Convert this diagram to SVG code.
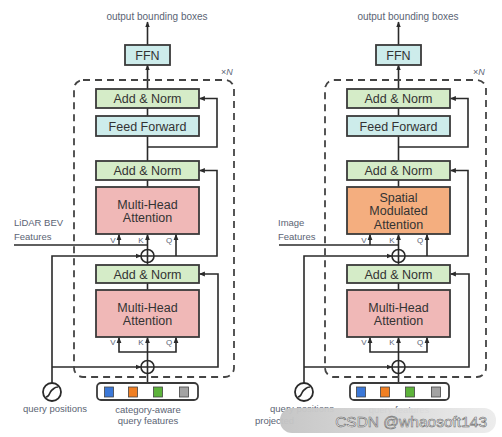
<svg xmlns="http://www.w3.org/2000/svg" width="502" height="437" viewBox="0 0 502 437">
<defs>
<style>
.box{stroke:#3a3a3a;stroke-width:1.8}
.an{fill:#d5ecc8}
.ff{fill:#cdeceb}
.mha{fill:#f0b8b7}
.sma{fill:#f4ae7f}
.t{font-family:"Liberation Sans",Arial,sans-serif;font-size:12.5px;fill:#333;text-anchor:middle}
.lbl{font-family:"Liberation Sans",Arial,sans-serif;font-size:9.5px;fill:#5b6474}
.mid{text-anchor:middle}
.vkq{font-family:"Liberation Sans",Arial,sans-serif;font-size:8px;fill:#5b6474;text-anchor:middle}
.ln{fill:none;stroke:#2a2a2a;stroke-width:1.6}
.arr{marker-end:url(#ah)}
.dash{fill:none;stroke:#444;stroke-width:1.8;stroke-dasharray:7 5}
.plus{fill:#fff;stroke:#2a2a2a;stroke-width:1.6}
.sq{stroke:#444;stroke-width:0.8}
</style>
<marker id="ah" viewBox="0 0 10 10" refX="9" refY="5" markerWidth="6" markerHeight="6" orient="auto" markerUnits="userSpaceOnUse">
<path d="M0,1 L10,5 L0,9 z" fill="#2a2a2a"/>
</marker>
<linearGradient id="wm" x1="0" x2="1" y1="0" y2="0">
<stop offset="0" stop-color="#c4c4c4"/>
<stop offset="1" stop-color="#ececec"/>
</linearGradient>
</defs>
<rect width="502" height="437" fill="#fff"/>

<!-- LEFT PANEL -->
<g id="left-panel">
<g id="L-connectors">
<path class="ln arr" d="M147.5,45 V22"/>
<path class="ln arr" d="M147.5,89 V65"/>
<path class="ln" d="M147.5,116 V108"/>
<path class="ln" d="M147.5,161 V136"/>
<path class="ln arr" d="M147.5,147 H217 V98.5 H199.5"/>
<path class="ln" d="M147.5,187 V180"/>
<path class="ln arr" d="M154,256 H217 V170.5 H199.5"/>
<path class="ln arr" d="M176,256 V234.5"/>
<path class="ln" d="M14,245 H147.5"/>
<path class="ln arr" d="M119,245 V234.5"/>
<path class="ln arr" d="M147.5,249.5 V234.5"/>
<path class="ln" d="M147.5,265 V262.5"/>
<path class="ln" d="M147.5,283 V290"/>
<path class="ln arr" d="M52,383 V256 H141"/>
<path class="ln arr" d="M52,367 H141"/>
<path class="ln arr" d="M154,367 H218 V274 H199.5"/>
<path class="ln" d="M147.5,383 V373.5"/>
<path class="ln arr" d="M147.5,360.5 V337.5"/>
<path class="ln arr" d="M147.5,352 H119 V337.5"/>
<path class="ln arr" d="M147.5,352 H176 V337.5"/>
</g>
<text class="lbl mid" x="157" y="19.5" style="font-size:10px">output bounding boxes</text>
<rect id="L-layer-repeat" class="dash" x="74" y="80" width="160" height="297" rx="9"/>
<text class="lbl" x="221" y="75" style="font-size:9px">×<tspan font-style="italic">N</tspan></text>
<g id="L-ffn"><rect class="box ff" x="125" y="45" width="45" height="20"/><text class="t" x="147.5" y="59.5">FFN</text></g>
<g id="L-addnorm3"><rect class="box an" x="96" y="89" width="103" height="19"/><text class="t" x="147.5" y="103">Add &amp; Norm</text></g>
<g id="L-feedforward"><rect class="box ff" x="96" y="116" width="103" height="20"/><text class="t" x="147.5" y="130.5">Feed Forward</text></g>
<g id="L-addnorm2"><rect class="box an" x="96" y="161" width="103" height="19"/><text class="t" x="147.5" y="175">Add &amp; Norm</text></g>
<g id="L-cross-attn"><rect class="box mha" x="96" y="187" width="103" height="47"/><text class="t" x="147.5" y="208.5">Multi-Head</text><text class="t" x="147.5" y="222">Attention</text>
<text class="vkq" x="113" y="243">V</text><text class="vkq" x="141" y="243">K</text><text class="vkq" x="169" y="243">Q</text></g>
<g id="L-lidar-label"><text class="lbl" x="14" y="226">LiDAR BEV</text><text class="lbl" x="14" y="240">Features</text></g>
<g id="L-plus-upper"><circle class="plus" cx="147.5" cy="256" r="6.5"/><path class="ln" d="M141,256 H154 M147.5,249.5 V262.5"/></g>
<g id="L-addnorm1"><rect class="box an" x="96" y="265" width="103" height="18"/><text class="t" x="147.5" y="278.5">Add &amp; Norm</text></g>
<g id="L-self-attn"><rect class="box mha" x="96" y="290" width="103" height="47"/><text class="t" x="147.5" y="311.5">Multi-Head</text><text class="t" x="147.5" y="325">Attention</text>
<text class="vkq" x="113" y="345">V</text><text class="vkq" x="141" y="345">K</text><text class="vkq" x="169" y="345">Q</text></g>
<g id="L-plus-lower"><circle class="plus" cx="147.5" cy="367" r="6.5"/><path class="ln" d="M141,367 H154 M147.5,360.5 V373.5"/></g>
<g id="L-query-positions"><circle cx="52" cy="392" r="9" fill="#fff" stroke="#2a2a2a" stroke-width="1.8"/><path d="M46,397 C50,397 49,392 52,390 C55,388 54,387 58,387" fill="none" stroke="#2a2a2a" stroke-width="1.6"/>
<text class="lbl mid" x="55" y="412">query positions</text></g>
<g id="L-query-features"><rect x="97" y="383" width="101" height="17" rx="4" fill="#fff" stroke="#3a3a3a" stroke-width="1.8"/>
<rect class="sq" x="104.5" y="387" width="9" height="10" fill="#3b78d8"/><rect class="sq" x="128.5" y="387" width="9" height="10" fill="#f07f23"/><rect class="sq" x="153.5" y="387" width="9" height="10" fill="#5db33b"/><rect class="sq" x="179.5" y="387" width="9" height="10" fill="#a3a3a3"/>
<text class="lbl mid" x="148" y="413">category-aware</text><text class="lbl mid" x="148" y="424">query features</text></g>
</g>

<!-- RIGHT PANEL -->
<g id="right-panel" transform="translate(251,0)">
<g id="R-connectors">
<path class="ln arr" d="M147.5,45 V22"/>
<path class="ln arr" d="M147.5,89 V65"/>
<path class="ln" d="M147.5,116 V108"/>
<path class="ln" d="M147.5,161 V136"/>
<path class="ln arr" d="M147.5,147 H217 V98.5 H199.5"/>
<path class="ln" d="M147.5,187 V180"/>
<path class="ln arr" d="M154,256 H217 V170.5 H199.5"/>
<path class="ln arr" d="M176,256 V234.5"/>
<path class="ln" d="M28,245 H147.5"/>
<path class="ln arr" d="M119,245 V234.5"/>
<path class="ln arr" d="M147.5,249.5 V234.5"/>
<path class="ln" d="M147.5,265 V262.5"/>
<path class="ln" d="M147.5,283 V290"/>
<path class="ln arr" d="M53,383 V256 H141"/>
<path class="ln arr" d="M53,367 H141"/>
<path class="ln arr" d="M154,367 H218 V274 H199.5"/>
<path class="ln" d="M147.5,383 V373.5"/>
<path class="ln arr" d="M147.5,360.5 V337.5"/>
<path class="ln arr" d="M147.5,352 H119 V337.5"/>
<path class="ln arr" d="M147.5,352 H176 V337.5"/>
</g>
<text class="lbl mid" x="157" y="19.5" style="font-size:10px">output bounding boxes</text>
<rect id="R-layer-repeat" class="dash" x="74" y="80" width="161" height="297" rx="9"/>
<text class="lbl" x="222" y="75" style="font-size:9px">×<tspan font-style="italic">N</tspan></text>
<g id="R-ffn"><rect class="box ff" x="125" y="45" width="45" height="20"/><text class="t" x="147.5" y="59.5">FFN</text></g>
<g id="R-addnorm3"><rect class="box an" x="96" y="89" width="103" height="19"/><text class="t" x="147.5" y="103">Add &amp; Norm</text></g>
<g id="R-feedforward"><rect class="box ff" x="96" y="116" width="103" height="20"/><text class="t" x="147.5" y="130.5">Feed Forward</text></g>
<g id="R-addnorm2"><rect class="box an" x="96" y="161" width="103" height="19"/><text class="t" x="147.5" y="175">Add &amp; Norm</text></g>
<g id="R-sma"><rect class="box sma" x="96" y="187" width="103" height="47"/><text class="t" x="147.5" y="201.5">Spatial</text><text class="t" x="147.5" y="215">Modulated</text><text class="t" x="147.5" y="228.5">Attention</text>
<text class="vkq" x="113" y="243">V</text><text class="vkq" x="141" y="243">K</text><text class="vkq" x="169" y="243">Q</text></g>
<g id="R-image-label"><text class="lbl" x="27" y="226">Image</text><text class="lbl" x="27" y="240">Features</text></g>
<g id="R-plus-upper"><circle class="plus" cx="147.5" cy="256" r="6.5"/><path class="ln" d="M141,256 H154 M147.5,249.5 V262.5"/></g>
<g id="R-addnorm1"><rect class="box an" x="96" y="265" width="103" height="18"/><text class="t" x="147.5" y="278.5">Add &amp; Norm</text></g>
<g id="R-self-attn"><rect class="box mha" x="96" y="290" width="103" height="47"/><text class="t" x="147.5" y="311.5">Multi-Head</text><text class="t" x="147.5" y="325">Attention</text>
<text class="vkq" x="113" y="345">V</text><text class="vkq" x="141" y="345">K</text><text class="vkq" x="169" y="345">Q</text></g>
<g id="R-plus-lower"><circle class="plus" cx="147.5" cy="367" r="6.5"/><path class="ln" d="M141,367 H154 M147.5,360.5 V373.5"/></g>
<g id="R-query-positions"><circle cx="53" cy="392" r="9" fill="#fff" stroke="#2a2a2a" stroke-width="1.8"/><path d="M47,397 C51,397 50,392 53,390 C56,388 55,387 59,387" fill="none" stroke="#2a2a2a" stroke-width="1.6"/>
<text class="lbl mid" x="51" y="412">query positions</text><text class="lbl" x="4" y="424">projected</text></g>
<g id="R-query-features"><rect x="99" y="383" width="99" height="17" rx="4" fill="#fff" stroke="#3a3a3a" stroke-width="1.8"/>
<rect class="sq" x="105.5" y="387" width="9" height="10" fill="#3b78d8"/><rect class="sq" x="129.5" y="387" width="9" height="10" fill="#f07f23"/><rect class="sq" x="154.5" y="387" width="9" height="10" fill="#5db33b"/><rect class="sq" x="180.5" y="387" width="9" height="10" fill="#a3a3a3"/>
<text class="lbl mid" x="148" y="413">query features</text></g>
</g>

<g id="watermark">
<rect x="280" y="408" width="216" height="25" rx="12" fill="url(#wm)" opacity="0.96"/>
<text x="487" y="426.5" text-anchor="end" font-family="Liberation Sans,Arial,sans-serif" font-size="15.5" fill="#fff" stroke="#6a6a6a" stroke-width="0.6">CSDN @whaosoft143</text>
</g>
</svg>
